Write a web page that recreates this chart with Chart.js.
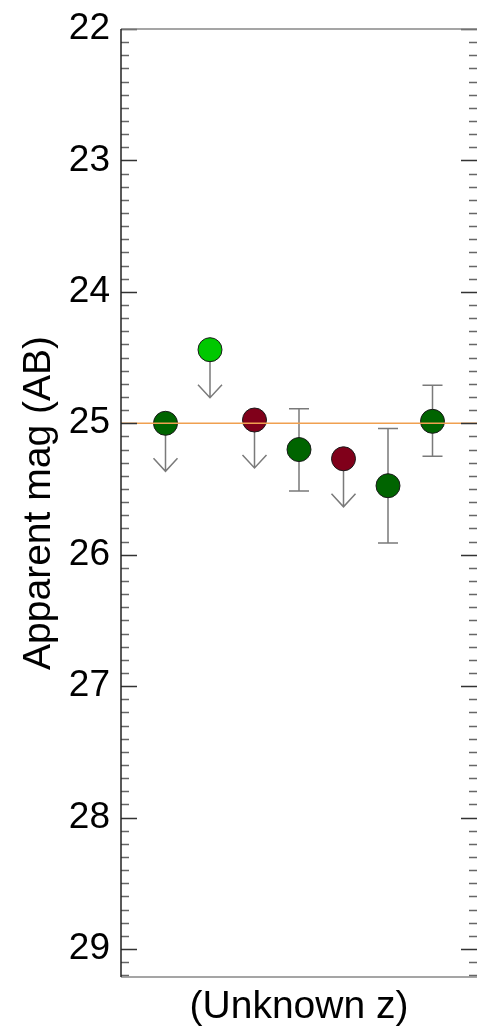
<!DOCTYPE html>
<html>
<head>
<meta charset="utf-8">
<script src="https://cdn.jsdelivr.net/npm/chart.js@4"></script>
<style>
  html, body { margin: 0; padding: 0; background: #fff; overflow: hidden; }
  canvas { display: block; }
</style>
</head>
<body>
<canvas id="magChart" width="477" height="1028"></canvas>
<script>
// one entry per source, left to right
const sourceIdx = [1, 2, 3, 4, 5, 6, 7];
const mags = [25.0, 24.44, 24.975, 25.2, 25.27, 25.475, 24.985];
const errTop = [null, null, null, 24.89, null, 25.04, 24.71];
const errBottom = [null, null, null, 25.515, null, 25.91, 25.25];
const upperLimit = [true, true, true, false, true, false, false];
const pointColors = ['#006400', '#00c800', '#80001a', '#006400', '#80001a', '#006400', '#006400'];
const refMag = 25.0;
const majorTicks = [22, 23, 24, 25, 26, 27, 28, 29];

let magChart;

// error bars, limit arrows, minor ticks and the reference line
const extras = {
    id: 'extras',
    beforeDatasetsDraw(chart) {
        const ctx = chart.ctx;
        const xs = chart.scales.x;
        const ys = chart.scales.y;
        ctx.save();
        ctx.strokeStyle = '#7a7a7a';
        ctx.lineWidth = 1.5;
        sourceIdx.forEach((s, i) => {
            const px = xs.getPixelForValue(s);
            const py = ys.getPixelForValue(mags[i]);
            if (upperLimit[i]) {
                const tip = py + 48;
                ctx.beginPath();
                ctx.moveTo(px, py);
                ctx.lineTo(px, tip);
                ctx.moveTo(px - 12, tip - 13);
                ctx.lineTo(px, tip);
                ctx.lineTo(px + 12, tip - 13);
                ctx.stroke();
            } else if (errTop[i] !== null) {
                const t = ys.getPixelForValue(errTop[i]);
                const b = ys.getPixelForValue(errBottom[i]);
                ctx.beginPath();
                ctx.moveTo(px, t);
                ctx.lineTo(px, b);
                ctx.moveTo(px - 10, t);
                ctx.lineTo(px + 10, t);
                ctx.moveTo(px - 10, b);
                ctx.lineTo(px + 10, b);
                ctx.stroke();
            }
        });
        ctx.restore();
    },
    afterDatasetsDraw(chart) {
        const ctx = chart.ctx;
        const area = chart.chartArea;
        const ys = chart.scales.y;
        ctx.save();
        // reference line
        const ry = ys.getPixelForValue(refMag);
        ctx.strokeStyle = '#f0a050';
        ctx.lineWidth = 1.5;
        ctx.beginPath();
        ctx.moveTo(area.left, ry);
        ctx.lineTo(area.right, ry);
        ctx.stroke();

        // ticks on both sides, every 0.1 mag
        for (let k = 0; k <= 72; k++) {
            const v = 22 + k / 10;
            const y = Math.round(ys.getPixelForValue(v)) + 0.5;
            const major = k % 10 === 0;
            const len = major ? 16 : 8;
            ctx.strokeStyle = major ? '#333' : '#666';
            ctx.lineWidth = 1.3;
            ctx.beginPath();
            ctx.moveTo(area.left, y);
            ctx.lineTo(area.left + len, y);
            ctx.moveTo(area.right, y);
            ctx.lineTo(area.right - len, y);
            ctx.stroke();
        }

        // frame
        ctx.lineWidth = 1.5;
        ctx.strokeStyle = '#888';
        ctx.beginPath();
        ctx.moveTo(area.left, area.top);
        ctx.lineTo(area.right, area.top);
        ctx.moveTo(area.left, area.bottom);
        ctx.lineTo(area.right, area.bottom);
        ctx.stroke();
        ctx.strokeStyle = '#222';
        ctx.beginPath();
        ctx.moveTo(area.left, area.top);
        ctx.lineTo(area.left, area.bottom);
        ctx.stroke();
        ctx.restore();
    }
};

function noPad(scale) {
    scale.paddingTop = 0;
    scale.paddingBottom = 0;
    scale.paddingLeft = 0;
    scale.paddingRight = 0;
}

function buildChart() {
    const points = sourceIdx.map((s, i) => ({ x: s, y: mags[i] }));
    const config = {
        type: 'scatter',
        data: {
            datasets: [{
                data: points,
                pointRadius: 12,
                pointHoverRadius: 12,
                pointBackgroundColor: pointColors,
                pointBorderColor: '#1a1a1a',
                pointBorderWidth: 1
            }]
        },
        options: {
            responsive: false,
            animation: false,
            events: [],
            layout: { autoPadding: false, padding: { top: 29, right: 0, left: 0, bottom: 0 } },
            plugins: {
                legend: { display: false },
                tooltip: { enabled: false }
            },
            scales: {
                x: {
                    type: 'linear',
                    min: 0,
                    max: 8,
                    grid: { display: false, drawTicks: false },
                    border: { display: false },
                    ticks: { display: false },
                    title: {
                        display: true,
                        text: '(Unknown z)',
                        color: '#000',
                        font: { family: 'Liberation Sans', size: 39, lineHeight: 1 },
                        padding: { top: 0, bottom: 1 }
                    },
                    afterFit(scale) { scale.height = 51; noPad(scale); }
                },
                y: {
                    type: 'linear',
                    min: 22,
                    max: 29.213,
                    reverse: true,
                    grid: { display: false, drawTicks: false },
                    border: { display: false },
                    afterBuildTicks(scale) {
                        scale.ticks = majorTicks.map(v => ({ value: v }));
                    },
                    ticks: {
                        color: '#000',
                        padding: 11,
                        font: { family: 'Liberation Sans', size: 37 },
                        callback: v => String(v)
                    },
                    title: {
                        display: true,
                        text: 'Apparent mag (AB)',
                        color: '#000',
                        font: { family: 'Liberation Sans', size: 39, lineHeight: 1 },
                        padding: { top: 20, bottom: 0 }
                    },
                    afterFit(scale) { scale.width = 121; noPad(scale); }
                }
            }
        },
        plugins: [extras]
    };
    magChart = new Chart(document.getElementById('magChart'), config);
}
buildChart();
</script>
</body>
</html>
